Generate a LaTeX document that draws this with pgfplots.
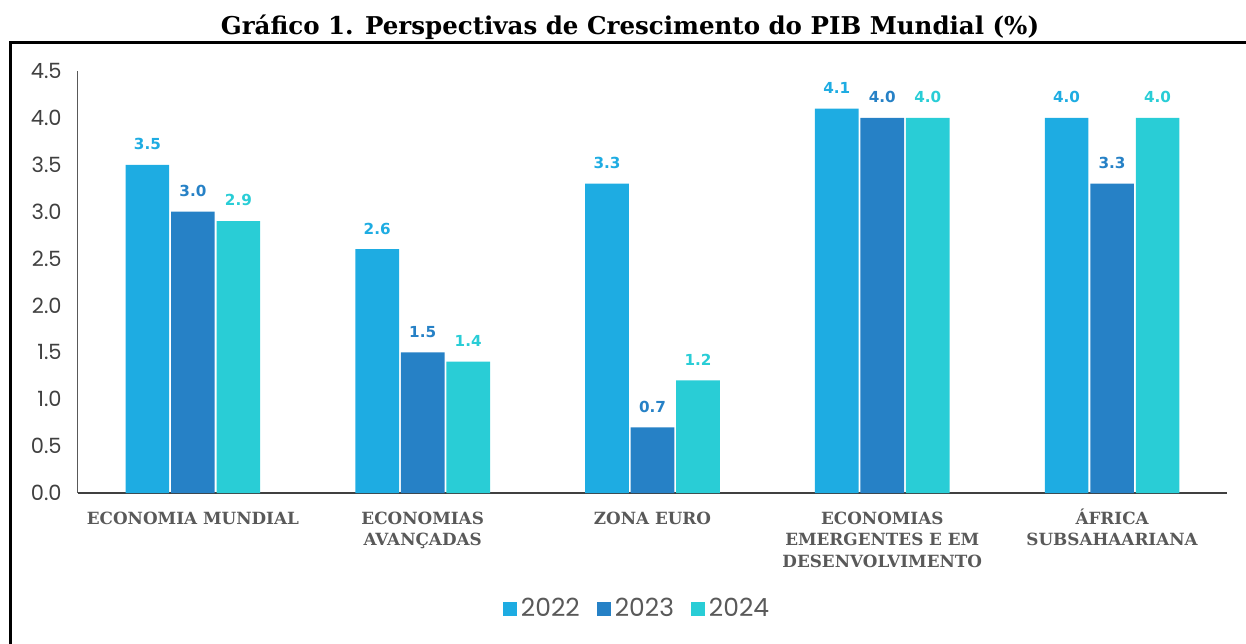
\documentclass[border=0pt]{standalone}
\usepackage{fontspec}
\usepackage{pgfplots}
\pgfplotsset{compat=1.18}
\newfontfamily\serifb{DejaVu Serif}
\newfontfamily\sansv{DejaVu Sans}
\newfontfamily\gothic{Poppins}
\definecolor{cA}{HTML}{1EACE2}
\definecolor{cB}{HTML}{2681C6}
\definecolor{cC}{HTML}{29CDD6}
\definecolor{txtgray}{HTML}{595959}
\definecolor{tickgray}{HTML}{404040}
\pgfplotsset{sq/.style={legend image code/.code={\fill[##1] (0pt,-3.5pt) rectangle (7pt,3.5pt);}},
  vlab/.style 2 args={nodes near coords, every node near coord/.append style={text=#1, font=\sansv\bfseries\fontsize{7.6}{9}\selectfont, inner sep=0pt, yshift=7.25pt, xshift=#2, /pgf/number format/fixed, /pgf/number format/fixed zerofill, /pgf/number format/precision=1}}}
\begin{document}
\begin{tikzpicture}
\begin{axis}[
  at={(0,0)}, anchor=south west,
  scale only axis, width=574.5pt, height=211pt,
  xmin=-0.5, xmax=4.5, ymin=0, ymax=4.5,
  axis lines*=left,
  x axis line style={draw=tickgray, line width=0.8pt},
  y axis line style={draw=txtgray, line width=0.5pt},
  tick style={draw=none},
  xtick={0,1,2,3,4},
  xticklabels={{\rule{0pt}{9pt}ECONOMIA MUNDIAL},{\rule{0pt}{9pt}ECONOMIAS\\AVANÇADAS},{\rule{0pt}{9pt}ZONA EURO},{\rule{0pt}{9pt}ECONOMIAS\\EMERGENTES E EM\\DESENVOLVIMENTO},{\rule{0pt}{9pt}ÁFRICA\\SUBSAHAARIANA}},
  xticklabel style={font=\serifb\bfseries\fontsize{8.4}{10.75}\selectfont, text=txtgray, align=center, anchor=north, inner sep=0pt, yshift=-6.5pt},
  ytick={0,0.5,1,1.5,2,2.5,3,3.5,4,4.5},
  yticklabel style={font=\gothic\fontsize{10.5}{12}\selectfont, text=tickgray, anchor=east, inner sep=0pt, xshift=-8pt, /pgf/number format/.cd, fixed, fixed zerofill, precision=1},
  /pgf/number format/assume math mode=true,
  clip=false,
  legend columns=3,
  legend style={draw=none, fill=none, at={(0.4857,-0.2749)}, anchor=center,
    font=\gothic\fontsize{12.5}{14}\selectfont, text=txtgray,
    nodes={inner sep=0pt, text=txtgray},
    /tikz/every even column/.append style={column sep=8.5pt},
    /tikz/every odd column/.append style={column sep=2pt}},
]
\addplot[ybar, bar width=0.19, bar shift=-0.198, fill=cA, draw=none, sq, vlab={cA}{-22.75pt}]
  coordinates {(0,3.5) (1,2.6) (2,3.3) (3,4.1) (4,4.0)};
\addlegendentry{2022}
\addplot[ybar, bar width=0.19, bar shift=0, fill=cB, draw=none, sq, vlab={cB}{0pt}]
  coordinates {(0,3.0) (1,1.5) (2,0.7) (3,4.0) (4,3.3)};
\addlegendentry{2023}
\addplot[ybar, bar width=0.19, bar shift=0.198, fill=cC, draw=none, sq, vlab={cC}{22.75pt}]
  coordinates {(0,2.9) (1,1.4) (2,1.2) (3,4.0) (4,4.0)};
\addlegendentry{2024}
\end{axis}
\draw[line width=1.5pt, line join=miter] (-33.65pt,-100pt) -- (-33.65pt,225.1pt) -- (620pt,225.1pt);
\node[anchor=base, font=\serifb\bfseries\fontsize{12.25}{15}\selectfont, inner sep=0pt] at (276pt,229pt) {Gráfico 1. Perspectivas de Crescimento do PIB Mundial (\%)};
\pgfresetboundingbox
\useasboundingbox (-39pt,-75pt) rectangle (584pt,246.5pt);
\end{tikzpicture}
\end{document}
